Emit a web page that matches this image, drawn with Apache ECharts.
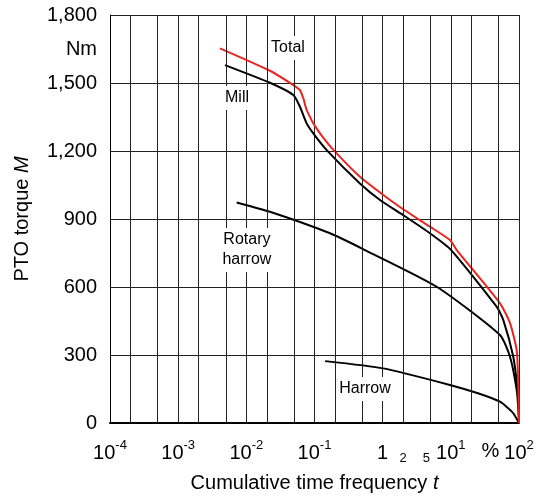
<!DOCTYPE html>
<html>
<head>
<meta charset="utf-8">
<script src="https://cdn.jsdelivr.net/npm/echarts@6/dist/echarts.min.js"></script>
<style>
  html, body { margin: 0; padding: 0; background: #fff; }
  #chart { width: 541px; height: 499px; }
</style>
</head>
<body>
<div id="chart"></div>
<script>
// Cumulative time frequency t (%) against PTO torque M (Nm)
const totalCurve = [
  [0.0041, 1653], [0.0222, 1554], [0.0489, 1491], [0.0612, 1469], [0.0686, 1432],
  [0.0767, 1381], [0.086, 1350], [0.096, 1322], [0.129, 1266], [0.2, 1197],
  [0.464, 1086], [1.02, 1006], [2.0, 943], [4.94, 866], [9.72, 807], [12.2, 763],
  [52.6, 528], [73.8, 441], [92.5, 322], [96.6, 212], [98.5, 116], [100, 0]
];
const millCurve = [
  [0.00486, 1579], [0.0222, 1501], [0.0489, 1447], [0.0612, 1395], [0.0767, 1322],
  [0.096, 1278], [0.151, 1204], [0.464, 1057], [0.914, 984], [2.0, 917],
  [4.94, 837], [10.1, 763], [47, 513], [58.9, 454], [82.4, 292], [95, 150],
  [98.5, 70], [100, 0]
];
const rotaryHarrowCurve = [
  [0.00721, 973], [0.0222, 932], [0.169, 837], [0.55, 763], [6.2, 601],
  [52.6, 388], [73.8, 292], [92.5, 146], [98.5, 50], [100, 0]
];
const harrowCurve = [
  [0.143, 273], [1.02, 241], [9.7, 168], [25, 131], [52.6, 94], [68.9, 66],
  [82.4, 43], [100, 0]
];

// Curve name tags: [t, M, text]
const curveTags = {
  total: [0.0408, 1654, 'Total'],
  mill: [0.0073, 1434, 'Mill'],
  rotary: [0.0102, 763, 'Rotary\nharrow'],
  harrow: [0.55, 150, 'Harrow']
};

// Axis ticks
const yMin = 0, yMax = 1800;
const yTicks = [0, 300, 600, 900, 1200, 1500, 1800];
const yUnitAt = 1650;
const yUnit = 'Nm';
const xMin = 1e-4, xMax = 100;
const minorGrid = [2e-4, 5e-4, 2e-3, 5e-3, 2e-2, 5e-2, 0.2, 0.5, 2, 5, 20, 50];
const minorLabels = [[2, '2'], [5, '5']];
const percentAt = 38;

const FONT = '"Liberation Sans", Arial, sans-serif';
const GRID_COLOR = '#222';

function tag(key) {
  const t = curveTags[key];
  return {
    symbol: 'rect', symbolSize: 1, silent: true,
    itemStyle: { color: 'rgba(0,0,0,0)' },
    label: {
      show: true, position: 'inside', color: '#000', fontFamily: FONT,
      fontSize: 16, lineHeight: 20, backgroundColor: '#fff', padding: [2, 3],
      formatter: t[2]
    },
    data: [{ coord: [t[0], t[1]] }]
  };
}

// 2x and 5x gridlines inside each decade, plus the small tick texts under the axis
const gridLines = minorGrid.map(v => {
  const lab = minorLabels.find(m => m[0] === v);
  return [
    {
      coord: [v, yMin],
      label: lab ? {
        show: true, position: 'start', formatter: lab[1], fontSize: 13,
        fontFamily: FONT, color: '#000', distance: 29, offset: [v === 5 ? -4 : 0, 0]
      } : { show: false }
    },
    { coord: [v, yMax] }
  ];
});
gridLines.push([
  {
    coord: [percentAt, yMin],
    lineStyle: { color: 'rgba(0,0,0,0)', width: 0 },
    label: { show: true, position: 'start', formatter: '%', fontSize: 20,
      fontFamily: FONT, color: '#000', distance: 18 }
  },
  { coord: [percentAt, yMax] }
]);

const lineSeries = (name, data, color, tagKey, extra) => Object.assign({
  name, type: 'line', data, showSymbol: false, smooth: 0.2,
  lineStyle: { color, width: 2 },
  markPoint: tag(tagKey)
}, extra || {});

const chart = echarts.init(document.getElementById('chart'), null, { renderer: 'canvas' });
chart.setOption({
  animation: false,
  backgroundColor: '#fff',
  grid: { left: 110, right: 22, top: 15, bottom: 76 },
  xAxis: {
    type: 'log', logBase: 10, min: xMin, max: xMax,
    name: '{a|Cumulative time frequency }{i|t}',
    nameLocation: 'middle', nameGap: 50,
    nameTextStyle: {
      rich: {
        a: { fontSize: 20, fontFamily: FONT, color: '#000' },
        i: { fontSize: 20, fontFamily: FONT, color: '#000', fontStyle: 'italic' }
      }
    },
    axisLine: { show: true, lineStyle: { color: '#000', width: 2 } },
    axisTick: { show: false },
    splitLine: { show: true, lineStyle: { color: GRID_COLOR, width: 1 } },
    axisLabel: {
      margin: 16,
      formatter: v => {
        const e = Math.round(Math.log10(v));
        if (e === 0) return '{b|1}';
        return '{b|10}{s|' + e + '}';
      },
      rich: {
        b: { fontSize: 20, fontFamily: FONT, color: '#000', lineHeight: 24, verticalAlign: 'bottom' },
        s: { fontSize: 13, fontFamily: FONT, color: '#000', lineHeight: 24, verticalAlign: 'top' }
      }
    }
  },
  yAxis: [{
    type: 'value', min: yMin, max: yMax, interval: 300,
    name: '{a|PTO torque }{i|M}',
    nameLocation: 'middle', nameGap: 78,
    nameTextStyle: {
      rich: {
        a: { fontSize: 20, fontFamily: FONT, color: '#000' },
        i: { fontSize: 20, fontFamily: FONT, color: '#000', fontStyle: 'italic' }
      }
    },
    axisLine: { show: true, lineStyle: { color: '#000', width: 1 } },
    axisTick: { show: false },
    splitLine: { show: true, lineStyle: { color: GRID_COLOR, width: 1 } },
    axisLabel: {
      margin: 13, fontSize: 20, fontFamily: FONT, color: '#000',
      formatter: v => yTicks.includes(v) ? v.toLocaleString('en-US') : ''
    }
  }, {
    type: 'value', min: yMin, max: yMax, interval: 150, position: 'left',
    axisLine: { show: false }, axisTick: { show: false }, splitLine: { show: false },
    axisLabel: {
      margin: 13, fontSize: 20, fontFamily: FONT, color: '#000',
      formatter: v => v === yUnitAt ? yUnit : ''
    }
  }],
  series: [
    lineSeries('Harrow', harrowCurve, '#000', 'harrow', {
      z: 1,
      clip: false,
      markLine: {
        silent: true, symbol: 'none', animation: false,
        lineStyle: { color: GRID_COLOR, width: 1, type: 'solid', opacity: 1 },
        label: { show: false },
        data: gridLines
      }
    }),
    lineSeries('Rotary harrow', rotaryHarrowCurve, '#000', 'rotary'),
    lineSeries('Mill', millCurve, '#000', 'mill'),
    lineSeries('Total', totalCurve, '#e8251f', 'total')
  ]
});
</script>
</body>
</html>
